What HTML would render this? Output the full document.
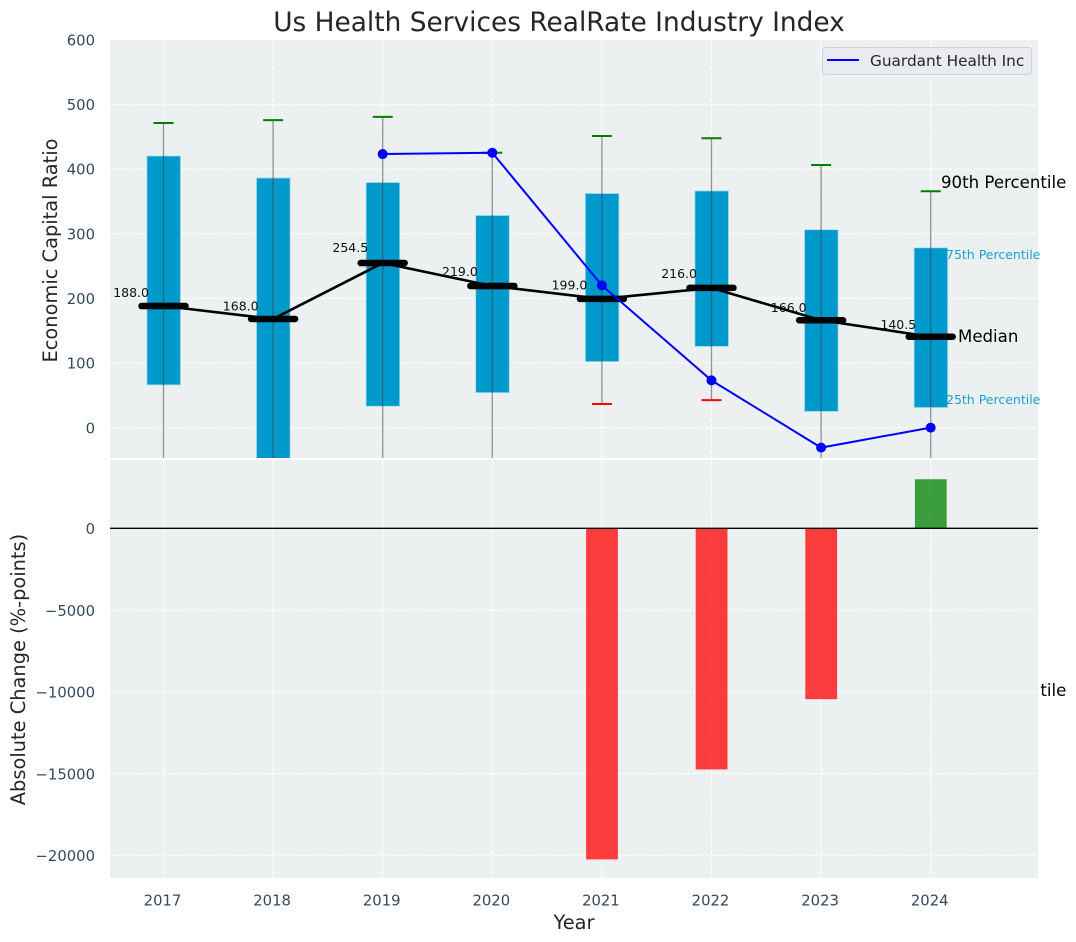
<!DOCTYPE html>
<html>
<head>
<meta charset="utf-8">
<title>Us Health Services RealRate Industry Index</title>
<style>
html,body{margin:0;padding:0;background:#fff;width:1076px;height:942px;overflow:hidden}
svg{display:block}
text{font-family:"DejaVu Sans","Liberation Sans",sans-serif}
</style>
</head>
<body>
<svg id="chart" xmlns="http://www.w3.org/2000/svg" width="1076" height="942" viewBox="0 0 1076 942">
  <defs>
    <clipPath id="top-clip"><rect x="110" y="40" width="928" height="418"/></clipPath>
    <clipPath id="bottom-clip"><rect x="110" y="460" width="928" height="418"/></clipPath>
    <clipPath id="hidden-label-clip"><rect x="1040" y="670" width="36" height="40"/></clipPath>
  </defs>
  <rect x="0" y="0" width="1076" height="942" fill="#ffffff"/>
  <text x="559" y="31" text-anchor="middle" font-size="26.4" fill="#262626">Us Health Services RealRate Industry Index</text>
  <text transform="translate(57 250.5) rotate(-90)" text-anchor="middle" font-size="19.4" fill="#262626">Economic Capital Ratio</text>
  <text transform="translate(25 669.5) rotate(-90)" text-anchor="middle" font-size="19.4" fill="#262626">Absolute Change (%-points)</text>
  <text x="574" y="929" text-anchor="middle" font-size="19.4" fill="#262626">Year</text>
  <rect x="110" y="40" width="928" height="418" fill="#ecf0f1"/>
  <g id="top-grid"></g>
  <g id="top-ticks"></g>
  <g id="top-marks" clip-path="url(#top-clip)"></g>
  <g id="annotations">
    <text x="941" y="188" font-size="16.6" fill="#000">90th Percentile</text>
    <text x="946" y="259" font-size="12.5" fill="#0099cc" fill-opacity="0.9">75th Percentile</text>
    <text x="958" y="342" font-size="16.6" fill="#000">Median</text>
    <text x="946" y="404" font-size="12.5" fill="#0099cc" fill-opacity="0.9">25th Percentile</text>
    <g clip-path="url(#hidden-label-clip)">
      <text x="941" y="696" font-size="16.6" fill="#000">10th Percentile</text>
    </g>
  </g>
  <rect x="110" y="460" width="928" height="418" fill="#ecf0f1"/>
  <g id="bottom-grid"></g>
  <g id="bottom-ticks"></g>
  <g id="x-ticks"></g>
  <g id="bottom-marks" clip-path="url(#bottom-clip)"></g>
  <g id="legend">
    <rect x="822.5" y="47.5" width="209" height="27" rx="3" fill="#e9ebf1" stroke="#d0d2d6" stroke-width="1"/>
    <line x1="827" y1="60" x2="859" y2="60" stroke="#0000ff" stroke-width="2"/>
    <text x="870" y="66" font-size="15.3" fill="#262626">Guardant Health Inc</text>
  </g>
</svg>
<script>
var years = [2017, 2018, 2019, 2020, 2021, 2022, 2023, 2024];
var p90 = [471, 475.5, 480.5, 425, 451, 447.5, 406, 365.5];
var p75 = [420, 386, 379, 328, 362, 366, 306, 278];
var medians = [188, 168, 254.5, 219, 199, 216, 166, 140.5];
var medianLabels = ['188.0', '168.0', '254.5', '219.0', '199.0', '216.0', '166.0', '140.5'];
var p25 = [66, -60, 33, 54, 102, 125.5, 25, 31];
var p10 = [-120, -130, -90, -80, 36.5, 42.5, -70, -65];
var companyYears = [2019, 2020, 2021, 2022, 2023, 2024];
var companyValues = [423, 425, 220, 73, -31, 0];
var changeYears = [2021, 2022, 2023, 2024];
var changeValues = [-20250, -14750, -10450, 3000];
var topTicks = [0, 100, 200, 300, 400, 500, 600];
var bottomTicks = [0, -5000, -10000, -15000, -20000];

var NS = 'http://www.w3.org/2000/svg';
function xPos(year) { return 163.5 + (year - 2017) * 109.6; }
function yTop(v) { return 427.6 - v * 0.6467; }
function yBottom(v) { return 528.3 - v * 0.01635; }
function mk(parent, tag, attrs) {
  var el = document.createElementNS(NS, tag);
  for (var k in attrs) { el.setAttribute(k, attrs[k]); }
  document.getElementById(parent).appendChild(el);
  return el;
}
var GRID = {stroke: '#ffffff', 'stroke-width': 1.2, 'stroke-dasharray': '4.4 2', 'stroke-opacity': 0.85};
function gridLine(parent, x1, y1, x2, y2) {
  var attrs = {x1: x1, y1: y1, x2: x2, y2: y2};
  for (var k in GRID) { attrs[k] = GRID[k]; }
  return mk(parent, 'line', attrs);
}
function minusText(v) { return v < 0 ? '\u2212' + Math.abs(v) : String(v); }

topTicks.forEach(function (t) {
  var g = gridLine('top-grid', 110, yTop(t), 1038, yTop(t));
  
  
  var lab = mk('top-ticks', 'text', {x: 95, y: yTop(t) + 5.8, 'text-anchor': 'end', 'font-size': 14.8, fill: '#34495e'});
  lab.textContent = minusText(t);
  
  
});
bottomTicks.forEach(function (t) {
  var g = gridLine('bottom-grid', 110, yBottom(t), 1038, yBottom(t));
  
  
  var lab = mk('bottom-ticks', 'text', {x: 95, y: yBottom(t) + 5.8, 'text-anchor': 'end', 'font-size': 14.8, fill: '#34495e'});
  lab.textContent = minusText(t);
  
  
});
years.forEach(function (yr) {
  var g1 = gridLine('top-grid', xPos(yr), 40, xPos(yr), 458);
  
  
  var g2 = gridLine('bottom-grid', xPos(yr), 460, xPos(yr), 878);
  
  
  var lab = mk('x-ticks', 'text', {x: xPos(yr) - 1, y: 905.5, 'text-anchor': 'middle', 'font-size': 14.8, fill: '#34495e'});
  lab.textContent = String(yr);
  
  
});

years.forEach(function (yr, i) {
  var cx = xPos(yr);
  var box = mk('top-marks', 'rect', {x: cx - 16.6, y: yTop(p75[i]), width: 33.6, height: yTop(p25[i]) - yTop(p75[i]), fill: '#0099cc', stroke: '#a6dcec', 'stroke-width': 0.8});
  
  
});
years.forEach(function (yr, i) {
  var cx = xPos(yr);
  var wh = mk('top-marks', 'line', {x1: cx, y1: yTop(p90[i]), x2: cx, y2: yTop(p10[i]), stroke: '#3c4043', 'stroke-width': 1.3, 'stroke-opacity': 0.55});
  
  
  var capHi = mk('top-marks', 'line', {x1: cx - 10, y1: yTop(p90[i]), x2: cx + 10, y2: yTop(p90[i]), stroke: '#008000', 'stroke-width': 2});
  
  
  var capLo = mk('top-marks', 'line', {x1: cx - 10, y1: yTop(p10[i]), x2: cx + 10, y2: yTop(p10[i]), stroke: '#ff0000', 'stroke-width': 2});
  
  
});

var medianPts = years.map(function (yr, i) { return xPos(yr) + ',' + yTop(medians[i]); }).join(' ');
var medianLine = mk('top-marks', 'polyline', {points: medianPts, fill: 'none', stroke: '#000', 'stroke-width': 2.6});


years.forEach(function (yr, i) {
  var cx = xPos(yr);
  var bar = mk('top-marks', 'line', {x1: cx - 22, y1: yTop(medians[i]), x2: cx + 22, y2: yTop(medians[i]), stroke: '#000', 'stroke-width': 6.5, 'stroke-linecap': 'round'});
  
  
});

var companyPts = companyYears.map(function (yr, i) { return xPos(yr) + ',' + yTop(companyValues[i]); }).join(' ');
var companyLine = mk('top-marks', 'polyline', {points: companyPts, fill: 'none', stroke: '#0000ff', 'stroke-width': 2});


companyYears.forEach(function (yr, i) {
  var pt = mk('top-marks', 'circle', {cx: xPos(yr), cy: yTop(companyValues[i]), r: 5, fill: '#0000ff'});
  
  
});

years.forEach(function (yr, i) {
  var lab = mk('top-marks', 'text', {x: xPos(yr) - 14.5, y: yTop(medians[i] * 1.05) - 3, 'text-anchor': 'end', 'font-size': 12.5, fill: '#111'});
  lab.textContent = medianLabels[i];
  
  
});

changeYears.forEach(function (yr, i) {
  var v = changeValues[i];
  var top = Math.min(yBottom(v), yBottom(0));
  var h = Math.abs(yBottom(v) - yBottom(0));
  var b = mk('bottom-marks', 'rect', {x: xPos(yr) - 15.8, y: top, width: 31.8, height: h, fill: v < 0 ? '#ff0000' : '#008000', 'fill-opacity': 0.75});
  
  
});
var zero = mk('bottom-marks', 'line', {x1: 110, y1: yBottom(0), x2: 1038, y2: yBottom(0), stroke: '#000', 'stroke-width': 1.3});


</script>
</body>
</html>
